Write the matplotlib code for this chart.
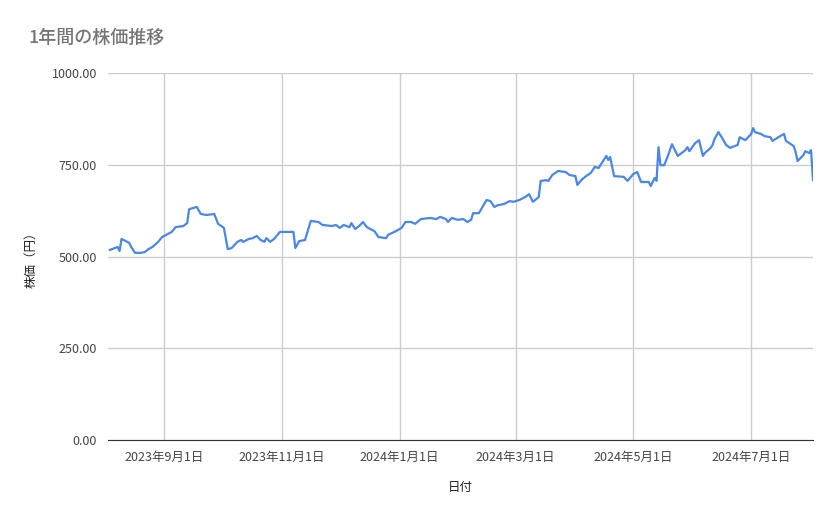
import matplotlib
matplotlib.use("Agg")
import matplotlib.pyplot as plt
import matplotlib.dates as mdates
import numpy as np
import datetime as dt

plt.rcParams['font.family'] = ['Noto Sans CJK JP', 'DejaVu Sans']

base_date = dt.date(2023, 9, 1)
day_offsets = [-28,-24,-23,-22,-18,-17,-15,-12,-10,-8,-6,-3,-1,4,6,10,12,13,17,19,22,26,28,31,33,35,38,40,41,44,46,48,50,52,53,55,57,60,67,68,70,73,76,80,82,87,89,91,93,96,97,99,101,103,105,109,111,115,116,120,123,125,128,130,133,138,141,143,146,147,149,152,155,157,159,160,163,167,169,171,173,176,179,181,184,187,189,191,194,195,198,199,201,204,208,210,213,214,216,218,221,223,225,229,230,231,233,238,240,243,245,247,249,251,252,254,255,256,257,259,261,263,266,270,271,272,275,277,279,280,283,284,285,287,289,291,293,297,298,301,304,305,306,309,311,314,315,319,321,322,326,327,328,331,332,334,335,336]
prices = [518,526,515,548,537,526,510,510,512,520,526,540,553,567,580,583,591,629,635,616,613,616,589,578,520,523,540,545,540,548,550,556,545,540,550,540,548,567,567,523,542,545,597,594,586,583,586,578,586,580,591,575,583,594,580,569,553,550,559,569,578,594,594,589,602,605,602,608,602,594,605,600,602,594,600,618,618,654,651,635,640,643,651,649,654,662,670,649,662,706,708,706,722,733,730,722,719,695,708,717,728,744,741,774,763,771,719,717,706,725,730,703,703,703,692,714,706,798,749,749,776,806,774,790,798,787,809,817,774,782,796,804,820,839,823,804,796,804,825,817,834,850,839,834,828,825,815,828,834,815,801,785,760,776,787,782,790,708]

title = "1年間の株価推移"
x_label = "日付"
y_label = "株価（円）"
tick_dates = [dt.date(2023,9,1), dt.date(2023,11,1), dt.date(2024,1,1), dt.date(2024,3,1), dt.date(2024,5,1), dt.date(2024,7,1)]
y_ticks = [0, 250, 500, 750, 1000]

dates = [base_date + dt.timedelta(days=d) for d in day_offsets]

fig = plt.figure(figsize=(8.39, 5.19), dpi=100)
ax = fig.add_axes([108/839, 1-440/519, (813-108)/839, (440-73)/519])
ax.plot(dates, prices, color='#4a86e8', linewidth=1.6)
ax.set_xlim(base_date + dt.timedelta(days=-28.4), base_date + dt.timedelta(days=336.1))
ax.set_ylim(0, 1000)
ax.set_yticks(y_ticks)
ax.set_yticklabels([f"{v:.2f}" for v in y_ticks])
ax.set_xticks(tick_dates)
ax.set_xticklabels([f"{d.year}年{d.month}月{d.day}日" for d in tick_dates])
ax.grid(True, color='#cccccc', linewidth=1)
ax.set_axisbelow(True)
for s in ['top', 'right', 'left']:
    ax.spines[s].set_visible(False)
ax.spines['bottom'].set_color('#333333')
ax.tick_params(length=0, labelsize=9, colors='#444444', pad=8)
ax.set_xlabel(x_label, fontsize=9, color='#222222', labelpad=12)
ax.set_ylabel(y_label, fontsize=9, color='#222222', labelpad=10)
fig.text(28/839, 1-38/519, title, fontsize=13, color='#757575', va='center', ha='left', fontweight='medium')
fig.savefig("out.png", dpi=100)
